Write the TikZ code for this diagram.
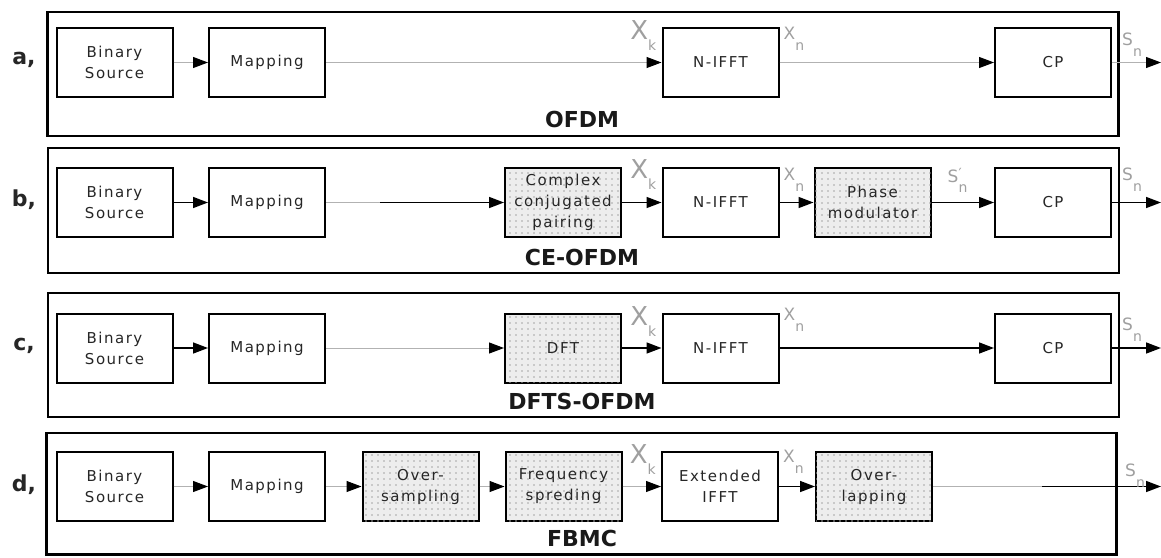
\documentclass[tikz,border=0pt]{standalone}
\usepackage{fontspec}
\setmainfont{DejaVu Sans}
\newfontfamily\boxfont[LetterSpace=10]{DejaVu Sans}
\usetikzlibrary{arrows.meta,patterns.meta}

% signal name with a lowered index
\newcommand{\sig}[3]{\fontsize{#3}{#3}\selectfont #1\raisebox{-11pt}{\fontsize{14}{14}\selectfont #2}}
\newcommand{\sigp}[3]{\fontsize{#3}{#3}\selectfont #1\rlap{\raisebox{4pt}{\fontsize{14}{14}\selectfont ′}}\raisebox{-10pt}{\fontsize{14}{14}\selectfont #2}}

\tikzset{
  blk/.style={draw, line width=2pt, minimum width=116pt, minimum height=69pt,
    inner sep=0pt, align=center, text=black!85,
    font=\boxfont\fontsize{15}{21}\selectfont},
  dotblk/.style={blk, fill=gray!14,
    postaction={pattern={Dots[distance=6pt,radius=0.8pt]}, pattern color=gray!70}},
  frame/.style={draw, line width=2.5pt},
  title/.style={font=\bfseries\fontsize{22}{22}\selectfont, inner sep=0pt, text=black!90},
  rowlbl/.style={font=\bfseries\fontsize{22}{22}\selectfont, inner sep=0pt, text=black!85},
  siglbl/.style={text=gray!75, inner sep=0pt},
  tip/.style={-{Triangle[length=15pt,width=11pt,color=black]}},
  gline/.style={draw=gray!60, line width=1pt, tip},
  gplain/.style={draw=gray!60, line width=1pt},
  bline/.style={draw=black, line width=1.5pt, tip}
}

\begin{document}
\begin{tikzpicture}[x=1pt, y=-1pt]
\useasboundingbox (0,0) rectangle (1161,557);

% a, OFDM
\draw[frame] (47.5,12) rectangle (1118.5,136);
\node[rowlbl] (a-lbl) at (24,60) {a,};
\node[blk] (a-bin) at (114.5,62.5) {Binary\\Source};
\node[blk] (a-map) at (267,62.5) {Mapping};
\node[blk] (a-nifft) at (720.5,62.5) {N-IFFT};
\node[blk] (a-cp) at (1053,62.5) {CP};
\coordinate (a-out) at (1161,62.5);
\node[title] (a-title) at (582,119) {OFDM};
\draw[gline] (a-bin) -- (a-map);
\draw[gline] (a-map) -- (a-nifft);
\draw[gline] (a-nifft) -- (a-cp);
\draw[gline] (a-cp) -- (a-out);
\node[siglbl, anchor=base east] (a-xk) at ([xshift=-5pt,yshift=23.5pt]a-nifft.west) {\sig{X}{k}{26}};
\node[siglbl, anchor=base west] (a-xn) at ([xshift=4pt,yshift=23.5pt]a-nifft.east) {\sig{X}{n}{17}};
\node[siglbl, anchor=base west] (a-sn) at ([xshift=10pt,yshift=17.5pt]a-cp.east) {\sig{S}{n}{17}};

% b, CE-OFDM
\draw[frame] (48,148) rectangle (1119,273);
\node[rowlbl] (b-lbl) at (24,200) {b,};
\node[blk] (b-bin) at (114.5,202.5) {Binary\\Source};
\node[blk] (b-map) at (267,202.5) {Mapping};
\node[dotblk] (b-cc) at (563,202.5) {Complex\\conjugated\\pairing};
\node[blk] (b-nifft) at (720.5,202.5) {N-IFFT};
\node[dotblk] (b-pm) at (872.5,202.5) {Phase\\modulator};
\node[blk] (b-cp) at (1053,202.5) {CP};
\coordinate (b-mid) at (380,202.5);
\coordinate (b-out) at (1161,202.5);
\node[title] (b-title) at (582,257) {CE-OFDM};
\draw[bline] (b-bin) -- (b-map);
\draw[gplain] (b-map) -- (b-mid);
\draw[bline] (b-mid) -- (b-cc);
\draw[bline] (b-cc) -- (b-nifft);
\draw[bline] (b-nifft) -- (b-pm);
\draw[bline] (b-pm) -- (b-cp);
\draw[bline] (b-cp) -- (b-out);
\node[siglbl, anchor=base east] (b-xk) at ([xshift=-5pt,yshift=24.5pt]b-nifft.west) {\sig{X}{k}{26}};
\node[siglbl, anchor=base west] (b-xn) at ([xshift=4pt,yshift=22.5pt]b-nifft.east) {\sig{X}{n}{17}};
\node[siglbl, anchor=base west] (b-sp) at ([xshift=16pt,yshift=20.5pt]b-pm.east) {\sigp{S}{n}{17}};
\node[siglbl, anchor=base west] (b-sn) at ([xshift=10pt,yshift=22.5pt]b-cp.east) {\sig{S}{n}{17}};

% c, DFTS-OFDM
\draw[frame] (48,293) rectangle (1119,417);
\node[rowlbl] (c-lbl) at (24,346) {c,};
\node[blk] (c-bin) at (114.5,348) {Binary\\Source};
\node[blk] (c-map) at (267,348) {Mapping};
\node[dotblk] (c-dft) at (563,348) {DFT};
\node[blk] (c-nifft) at (720.5,348) {N-IFFT};
\node[blk] (c-cp) at (1053,348) {CP};
\coordinate (c-out) at (1161,348);
\node[title] (c-title) at (582,401) {DFTS-OFDM};
\draw[bline] (c-bin) -- (c-map);
\draw[gline] (c-map) -- (c-dft);
\draw[bline] (c-dft) -- (c-nifft);
\draw[bline] (c-nifft) -- (c-cp);
\draw[bline] (c-cp) -- (c-out);
\node[siglbl, anchor=base east] (c-xk) at ([xshift=-5pt,yshift=23pt]c-nifft.west) {\sig{X}{k}{26}};
\node[siglbl, anchor=base west] (c-xn) at ([xshift=4pt,yshift=28pt]c-nifft.east) {\sig{X}{n}{17}};
\node[siglbl, anchor=base west] (c-sn) at ([xshift=10pt,yshift=18pt]c-cp.east) {\sig{S}{n}{17}};

% d, FBMC
\draw[frame] (46.5,433) rectangle (1116.5,554.5);
\node[rowlbl] (d-lbl) at (24,485) {d,};
\node[blk] (d-bin) at (114.5,486.5) {Binary\\Source};
\node[blk] (d-map) at (267,486.5) {Mapping};
\node[dotblk] (d-os) at (420.5,486.5) {Over-\\sampling};
\node[dotblk] (d-fs) at (563.5,486.5) {Frequency\\spreding};
\node[blk] (d-ext) at (720,486.5) {Extended\\IFFT};
\node[dotblk] (d-ol) at (874,486.5) {Over-\\lapping};
\coordinate (d-mid) at (1042,486.5);
\coordinate (d-out) at (1161,486.5);
\node[title] (d-title) at (582,538) {FBMC};
\draw[gline] (d-bin) -- (d-map);
\draw[gline] (d-map) -- (d-os);
\draw[gline] (d-os) -- (d-fs);
\draw[gline] (d-fs) -- (d-ext);
\draw[bline] (d-ext) -- (d-ol);
\draw[gplain] (d-ol) -- (d-mid);
\draw[bline] (d-mid) -- (d-out);
\node[siglbl, anchor=base east] (d-xk) at ([xshift=-5pt,yshift=23.5pt]d-ext.west) {\sig{X}{k}{26}};
\node[siglbl, anchor=base west] (d-xn) at ([xshift=4pt,yshift=24.5pt]d-ext.east) {\sig{X}{n}{17}};
\node[siglbl, anchor=base west] (d-sn) at ([xshift=-36pt,yshift=10pt]d-out) {\sig{S}{n}{17}};
\end{tikzpicture}
\end{document}
